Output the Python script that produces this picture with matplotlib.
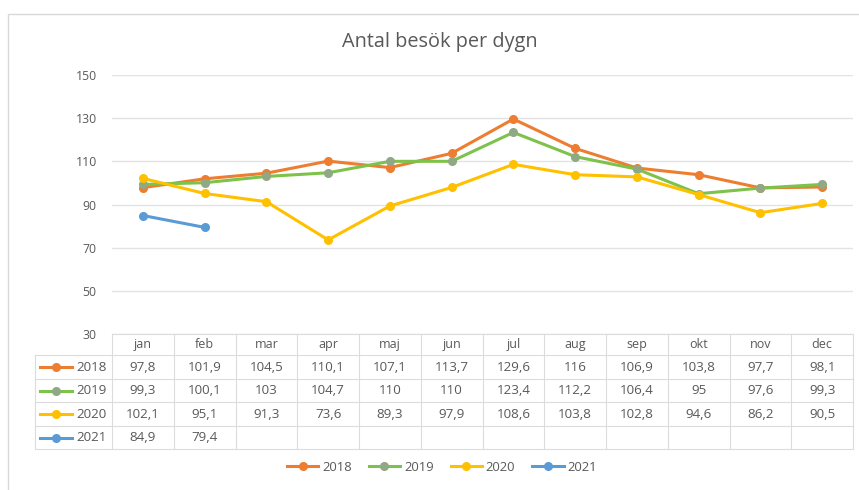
import numpy as np
import matplotlib
matplotlib.use("Agg")
import matplotlib.pyplot as plt
from matplotlib.lines import Line2D
from matplotlib.patches import Rectangle

plt.rcParams['font.family'] = ['Open Sans', 'DejaVu Sans']

# data
months = ['jan', 'feb', 'mar', 'apr', 'maj', 'jun', 'jul', 'aug', 'sep', 'okt', 'nov', 'dec']
years = ['2018', '2019', '2020', '2021']
v2018 = [97.8, 101.9, 104.5, 110.1, 107.1, 113.7, 129.6, 116, 106.9, 103.8, 97.7, 98.1]
v2019 = [99.3, 100.1, 103, 104.7, 110, 110, 123.4, 112.2, 106.4, 95, 97.6, 99.3]
v2020 = [102.1, 95.1, 91.3, 73.6, 89.3, 97.9, 108.6, 103.8, 102.8, 94.6, 86.2, 90.5]
v2021 = [84.9, 79.4] + [np.nan] * 10
series = [v2018, v2019, v2020, v2021]
line_cols = ['#ED7D31', '#7DC24B', '#FFC000', '#5B9BD5']
mark_cols = ['#ED7D31', '#8FA984', '#FFC000', '#5B9BD5']
yticks = [30, 50, 70, 90, 110, 130, 150]

W, H = 859, 490
fig = plt.figure(figsize=(W / 100, H / 100), dpi=100)

txt = '#595959'
grid = '#e3e3e3'

# ram runt diagrammet
fig.patches.append(Rectangle((8 / W, -0.05), 1.0, 1 - 14 / H + 0.05, transform=fig.transFigure,
                             fill=False, edgecolor='#d9d9d9', lw=1.0))

# plotområde (pixlar)
x0, x1 = 112, 853
ytop, ybot = 75, 334
ax = fig.add_axes([x0 / W, 1 - ybot / H, (x1 - x0) / W, (ybot - ytop) / H])
x = np.arange(len(months))
for vals, lc, mc, yr in zip(series, line_cols, mark_cols, years):
    ax.plot(x, vals, color=lc, lw=2.2, marker='o', ms=5.5, mfc=mc, mec=mc, label=yr, zorder=3)
ax.set_xlim(-0.5, len(months) - 0.5)
ax.set_ylim(30, 150)
ax.set_yticks(yticks)
ax.set_xticks([])
ax.grid(axis='y', color=grid, lw=1)
ax.set_axisbelow(True)
for s in ax.spines.values():
    s.set_visible(False)
ax.tick_params(axis='y', length=0, pad=11, labelsize=8.8, labelcolor=txt)

fig.text(440 / W, 1 - 42 / H, 'Antal besök per dygn', ha='center', va='center', fontsize=14.3, color=txt)

# datatabell
tab = fig.add_axes([0, 0, 1, 1])
tab.set_xlim(0, W)
tab.set_ylim(H, 0)
tab.axis('off')
rows = [334, 355, 379, 402, 426, 449]
colw = (x1 - x0) / len(months)
lc_tab = '#dcdcdc'
tab.plot([x0, x1], [rows[0], rows[0]], color=lc_tab, lw=0.8)
for r in rows[1:]:
    tab.plot([35, x1], [r, r], color=lc_tab, lw=0.8)
for i in range(len(months) + 1):
    xx = x0 + i * colw
    tab.plot([xx, xx], [rows[0], rows[-1]], color=lc_tab, lw=0.8)
tab.plot([35, 35], [rows[1], rows[-1]], color=lc_tab, lw=0.8)

for i, m in enumerate(months):
    tab.text(x0 + (i + 0.5) * colw, (rows[0] + rows[1]) / 2, m, ha='center', va='center',
             fontsize=9, color=txt)
for j, (vals, lc, mc, yr) in enumerate(zip(series, line_cols, mark_cols, years)):
    yc = (rows[j + 1] + rows[j + 2]) / 2
    tab.plot([40, 72], [yc, yc], color=lc, lw=2.2)
    tab.plot([56], [yc], marker='o', ms=5.5, color=mc)
    tab.text(76, yc, yr, ha='left', va='center', fontsize=9.6, color=txt)
    for i, v in enumerate(vals):
        if np.isnan(v):
            continue
        s = f"{v:g}".replace('.', ',')
        tab.text(x0 + (i + 0.5) * colw, yc, s, ha='center', va='center', fontsize=9.6, color=txt)

# legend
handles = [Line2D([], [], color=lc, lw=2.2, marker='o', ms=5.5, mfc=mc, mec=mc) for lc, mc in zip(line_cols, mark_cols)]
fig.legend(handles, years, loc='center', bbox_to_anchor=(442 / W, 1 - 467 / H), ncol=4,
           frameon=False, fontsize=9.4, labelcolor=txt, handlelength=2.4, handletextpad=0.3,
           columnspacing=1.3)

fig.savefig('out.png', dpi=100)
